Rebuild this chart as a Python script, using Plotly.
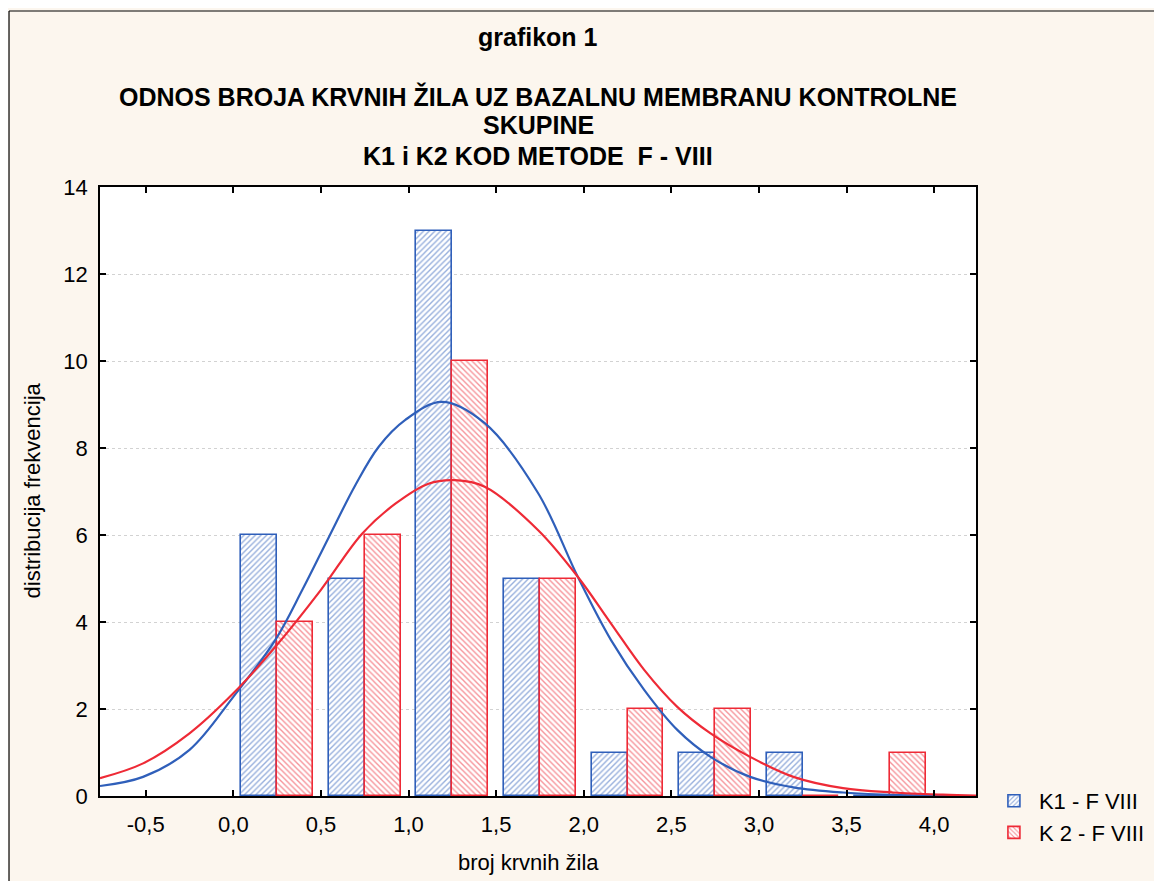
import plotly.graph_objects as go

# ---- data ----
bin_centers = [0.25, 0.75, 1.25, 1.75, 2.25, 2.75, 3.25, 3.75]
k1_counts = [6, 5, 13, 5, 1, 1, 1, 0]
k2_counts = [4, 6, 10, 5, 2, 2, 0, 1]

k1_curve_x = [-0.761, -0.515, -0.25, 0.0, 0.24, 0.394, 0.545, 0.697, 0.83, 0.98, 1.19,
              1.435, 1.74, 1.966, 2.155, 2.345, 2.534, 2.724, 2.95, 3.197, 3.48, 3.8, 4.24]
k1_curve_y = [0.23, 0.44, 1.06, 2.28, 3.59, 4.74, 5.95, 7.15, 8.03, 8.64, 9.06,
              8.57, 6.96, 5.04, 3.59, 2.44, 1.52, 0.90, 0.44, 0.20, 0.08, 0.02, 0.0]

k2_curve_x = [-0.761, -0.515, -0.25, 0.0, 0.24, 0.5, 0.735, 0.925, 1.114, 1.265, 1.435,
              1.74, 1.966, 2.155, 2.345, 2.534, 2.724, 2.95, 3.197, 3.48, 3.765, 4.05, 4.24]
k2_curve_y = [0.41, 0.75, 1.44, 2.36, 3.43, 4.74, 6.03, 6.72, 7.18, 7.26, 7.11,
              6.11, 5.04, 3.97, 2.90, 2.05, 1.44, 0.90, 0.44, 0.18, 0.08, 0.03, 0.01]

x_tick_vals = [-0.5, 0.0, 0.5, 1.0, 1.5, 2.0, 2.5, 3.0, 3.5, 4.0]
x_tick_text = ["-0,5", "0,0", "0,5", "1,0", "1,5", "2,0", "2,5", "3,0", "3,5", "4,0"]
y_tick_vals = [0, 2, 4, 6, 8, 10, 12, 14]

series_names = ["K1 - F VIII", "K 2 - F VIII"]
title_lines = ["grafikon 1",
               "ODNOS BROJA KRVNIH ŽILA UZ BAZALNU MEMBRANU KONTROLNE",
               "SKUPINE",
               "K1 i K2 KOD METODE  F - VIII"]
x_title = "broj krvnih žila"
y_title = "distribucija frekvencija"

BLUE = "#2f5fba"
RED = "#ee2a36"
FONT = "Liberation Sans, Arial, sans-serif"

# page body has an 8px margin: figure is placed at (8, 8)
PAGE_OFF = 8
PL, PT, PW, PH = 100, 187, 881, 609   # plot area in page pixels

fig = go.Figure()

fig.add_trace(go.Bar(
    x=bin_centers, y=k1_counts, name=series_names[0],
    offset=-0.205, width=0.205,
    marker=dict(color="white", line=dict(color=BLUE, width=1.6),
                pattern=dict(shape="/", fgcolor=BLUE, bgcolor="white", size=4, solidity=0.35)),
))
fig.add_trace(go.Bar(
    x=bin_centers, y=k2_counts, name=series_names[1],
    offset=0.0, width=0.205,
    marker=dict(color="white", line=dict(color=RED, width=1.6),
                pattern=dict(shape="\\", fgcolor=RED, bgcolor="white", size=4, solidity=0.35)),
))
fig.add_trace(go.Scatter(
    x=k1_curve_x, y=k1_curve_y, mode="lines", showlegend=False,
    line=dict(color=BLUE, width=2.2, shape="spline", smoothing=1.0),
))
fig.add_trace(go.Scatter(
    x=k2_curve_x, y=k2_curve_y, mode="lines", showlegend=False,
    line=dict(color=RED, width=2.2, shape="spline", smoothing=1.0),
))


def py(page_y):
    return (PT + PH - page_y) / PH


def px(page_x):
    return (page_x - PL) / PW


annotations = []
title_y_px = [37, 97, 125, 156]
for txt, ypx in zip(title_lines, title_y_px):
    annotations.append(dict(
        text="<b>%s</b>" % txt, xref="paper", yref="paper",
        x=0.5, y=py(ypx), xanchor="center", yanchor="middle", showarrow=False,
        font=dict(family=FONT, size=25, color="black")))
annotations.append(dict(
    text=x_title, xref="paper", yref="paper", x=px(531), y=py(862),
    xanchor="center", yanchor="middle", showarrow=False,
    font=dict(family=FONT, size=22, color="black")))
annotations.append(dict(
    text=y_title, xref="paper", yref="paper", x=px(33), y=py(490), textangle=-90,
    xanchor="center", yanchor="middle", showarrow=False,
    font=dict(family=FONT, size=22, color="black")))

fig_w, fig_h = 1162 - PAGE_OFF, 881 - PAGE_OFF
m_l = PL - PAGE_OFF
m_t = PT - PAGE_OFF
m_r = fig_w - m_l - PW
m_b = fig_h - m_t - PH

left_x = px(PAGE_OFF + 0.5)
right_x = px(1162 + 20)
top_y = py(11)
bottom_y = py(900)

fig.update_layout(
    width=fig_w, height=fig_h,
    margin=dict(l=m_l, r=m_r, t=m_t, b=m_b, pad=0),
    paper_bgcolor="#fcf6ee", plot_bgcolor="white",
    barmode="overlay", bargap=0,
    font=dict(family=FONT, size=22, color="black"),
    annotations=annotations,
    legend=dict(x=px(994), y=py(780), xanchor="left", yanchor="top",
                bgcolor="rgba(0,0,0,0)", font=dict(family=FONT, size=22, color="black"),
                tracegroupgap=0, itemwidth=40),
    shapes=[
        dict(type="line", xref="paper", yref="paper", x0=left_x, x1=right_x, y0=top_y, y1=top_y,
             line=dict(color="black", width=1.2), layer="above"),
        dict(type="line", xref="paper", yref="paper", x0=left_x, x1=left_x, y0=top_y, y1=bottom_y,
             line=dict(color="black", width=1.2), layer="above"),
    ],
)

fig.update_xaxes(
    range=[-0.761, 4.239], tickvals=x_tick_vals, ticktext=x_tick_text,
    ticks="inside", ticklen=6, tickcolor="black", tickwidth=1.5,
    showline=True, linecolor="black", linewidth=1.5, mirror="ticks",
    showgrid=False, zeroline=False, ticklabelstandoff=8,
    tickfont=dict(family=FONT, size=22, color="black"),
)
fig.update_yaxes(
    range=[0, 14], tickvals=y_tick_vals,
    ticks="inside", ticklen=6, tickcolor="black", tickwidth=1.5,
    showline=True, linecolor="black", linewidth=1.5, mirror="ticks",
    showgrid=True, gridcolor="#d2d2d2", griddash="dot", gridwidth=1.2,
    zeroline=False, ticklabelstandoff=6,
    tickfont=dict(family=FONT, size=22, color="black"),
)

fig.write_html("out.html")
